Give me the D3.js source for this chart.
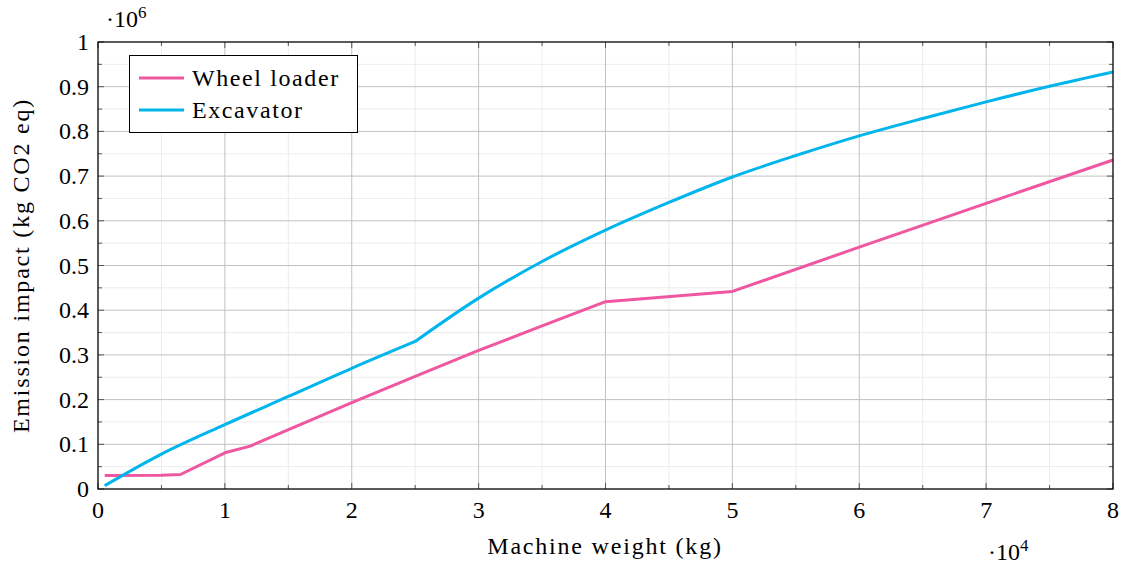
<!DOCTYPE html>
<html>
<head>
<meta charset="UTF-8">
<title>Emission impact vs machine weight</title>
<script src="https://d3js.org/d3.v7.min.js"></script>
<style>
  body { margin: 0; background: #fff; }
</style>
</head>
<body>
<div id="chart"></div>
<script>
// data (kg, kg CO2 eq)
var loaderWeight = [530, 5000, 6500, 10000, 12000, 20000, 25000, 30000, 35000, 40000, 50000, 60000, 70000, 80000];
var loaderImpact = [30000, 30500, 32500, 81000, 96000, 193000, 252000, 310000, 365000, 419000, 442000, 541000, 639000, 736000];

var excavWeight = [530, 5000, 10000, 15000, 20000, 25000, 30000, 35000, 40000, 45000, 50000, 55000, 60000, 65000, 70000, 75000, 80000];
var excavImpact = [7500, 78000, 144000, 207000, 270000, 330000, 427000, 509000, 579000, 641000, 698000, 746000, 790000, 829000, 866000, 901000, 933000];

var seriesNames = ["Wheel loader", "Excavator"];
var seriesColors = ["#ef57a0", "#00b5ec"];

var xTicks = [0, 10000, 20000, 30000, 40000, 50000, 60000, 70000, 80000];
var yTicks = [0, 100000, 200000, 300000, 400000, 500000, 600000, 700000, 800000, 900000, 1000000];

var width = 1126, height = 566;
var margin = {top: 42, right: 13, bottom: 77, left: 98};
var serif = "'Liberation Serif', 'Times New Roman', Tinos, 'DejaVu Serif', serif";

var svg = d3.select("#chart").append("svg")
  .attr("width", width)
  .attr("height", height)
  .style("font-family", serif);

var x = d3.scaleLinear().domain([0, 80000]).range([margin.left, width - margin.right]);
var y = d3.scaleLinear().domain([0, 1000000]).range([height - margin.bottom, margin.top]);

var x0 = x.range()[0], x1 = x.range()[1], y0 = y.range()[0], y1 = y.range()[1];

// minor grid
var xMinor = d3.range(5000, 80000, 10000);
var yMinor = d3.range(50000, 1000000, 100000);
svg.append("g").selectAll("line").data(xMinor).enter().append("line")
  .attr("x1", d => x(d)).attr("x2", d => x(d)).attr("y1", y0).attr("y2", y1)
  .attr("stroke", "#ececec").attr("stroke-width", 1);
svg.append("g").selectAll("line").data(yMinor).enter().append("line")
  .attr("y1", d => y(d)).attr("y2", d => y(d)).attr("x1", x0).attr("x2", x1)
  .attr("stroke", "#ececec").attr("stroke-width", 1);

// major grid
svg.append("g").selectAll("line").data(xTicks).enter().append("line")
  .attr("x1", d => x(d)).attr("x2", d => x(d)).attr("y1", y0).attr("y2", y1)
  .attr("stroke", "#c2c2c2").attr("stroke-width", 1);
svg.append("g").selectAll("line").data(yTicks).enter().append("line")
  .attr("y1", d => y(d)).attr("y2", d => y(d)).attr("x1", x0).attr("x2", x1)
  .attr("stroke", "#c2c2c2").attr("stroke-width", 1);

// tick marks inside the frame, on all sides
var tk = svg.append("g").attr("stroke", "#555").attr("stroke-width", 1);
xTicks.forEach(function(d) {
  tk.append("line").attr("x1", x(d)).attr("x2", x(d)).attr("y1", y0).attr("y2", y0 - 6);
  tk.append("line").attr("x1", x(d)).attr("x2", x(d)).attr("y1", y1).attr("y2", y1 + 6);
});
xMinor.forEach(function(d) {
  tk.append("line").attr("x1", x(d)).attr("x2", x(d)).attr("y1", y0).attr("y2", y0 - 4);
  tk.append("line").attr("x1", x(d)).attr("x2", x(d)).attr("y1", y1).attr("y2", y1 + 4);
});
yTicks.forEach(function(d) {
  tk.append("line").attr("y1", y(d)).attr("y2", y(d)).attr("x1", x0).attr("x2", x0 + 6);
  tk.append("line").attr("y1", y(d)).attr("y2", y(d)).attr("x1", x1).attr("x2", x1 - 6);
});
yMinor.forEach(function(d) {
  tk.append("line").attr("y1", y(d)).attr("y2", y(d)).attr("x1", x0).attr("x2", x0 + 4);
  tk.append("line").attr("y1", y(d)).attr("y2", y(d)).attr("x1", x1).attr("x2", x1 - 4);
});

// lines
var line = d3.line().x(d => x(d[0])).y(d => y(d[1]));
var smooth = d3.line().curve(d3.curveMonotoneX).x(d => x(d[0])).y(d => y(d[1]));
var loader = loaderWeight.map((w, i) => [w, loaderImpact[i]]);
var excav = excavWeight.map((w, i) => [w, excavImpact[i]]);
var kink = excavWeight.indexOf(25000);

svg.append("path").attr("d", line(loader))
  .attr("fill", "none").attr("stroke", seriesColors[0]).attr("stroke-width", 3)
  .attr("stroke-linejoin", "round");
// excavator: smooth on each side of the break at 25 t
svg.append("path").attr("d", smooth(excav.slice(0, kink + 1)) + smooth(excav.slice(kink)).replace(/^M/, "L"))
  .attr("fill", "none").attr("stroke", seriesColors[1]).attr("stroke-width", 3)
  .attr("stroke-linejoin", "round");

// frame
svg.append("rect")
  .attr("x", x0).attr("y", y1).attr("width", x1 - x0).attr("height", y0 - y1)
  .attr("fill", "none").attr("stroke", "#000").attr("stroke-width", 1.2);

// tick labels
svg.append("g").selectAll("text").data(xTicks).enter().append("text")
  .attr("x", d => x(d)).attr("y", y0 + 29)
  .attr("text-anchor", "middle").attr("font-size", 24)
  .text(d => d3.format("")(d / 10000));
svg.append("g").selectAll("text").data(yTicks).enter().append("text")
  .attr("x", x0 - 9).attr("y", d => y(d) + 8)
  .attr("text-anchor", "end").attr("font-size", 24)
  .text(d => d === 0 || d === 1000000 ? String(d / 1000000) : (d / 1000000).toFixed(1));

// exponent labels
var e6 = svg.append("text").attr("x", 106).attr("y", 27).attr("font-size", 24);
e6.append("tspan").text("\u00b710");
e6.append("tspan").attr("font-size", 17).attr("dy", -9).text("6");
var e4 = svg.append("text").attr("x", 988).attr("y", 560).attr("font-size", 24);
e4.append("tspan").text("\u00b710");
e4.append("tspan").attr("font-size", 17).attr("dy", -9).text("4");

// axis titles
svg.append("text").attr("x", 605).attr("y", 554)
  .attr("text-anchor", "middle").attr("font-size", 24).attr("letter-spacing", 1.8)
  .text("Machine weight (kg)");
svg.append("text")
  .attr("transform", "translate(29," + ((y0 + y1) / 2) + ") rotate(-90)")
  .attr("text-anchor", "middle").attr("font-size", 24).attr("letter-spacing", 1.8)
  .text("Emission impact (kg CO2 eq)");

// legend
var lg = svg.append("g");
lg.append("rect").attr("x", 129.5).attr("y", 55.5).attr("width", 228).attr("height", 77)
  .attr("fill", "#fff").attr("stroke", "#000").attr("stroke-width", 1);
seriesNames.forEach(function(name, i) {
  var ly = 78 + i * 32;
  lg.append("line").attr("x1", 139).attr("x2", 184).attr("y1", ly).attr("y2", ly)
    .attr("stroke", seriesColors[i]).attr("stroke-width", 3);
  lg.append("text").attr("x", 192).attr("y", ly + 8).attr("font-size", 24)
    .attr("letter-spacing", 1.6).text(name);
});
</script>
</body>
</html>
